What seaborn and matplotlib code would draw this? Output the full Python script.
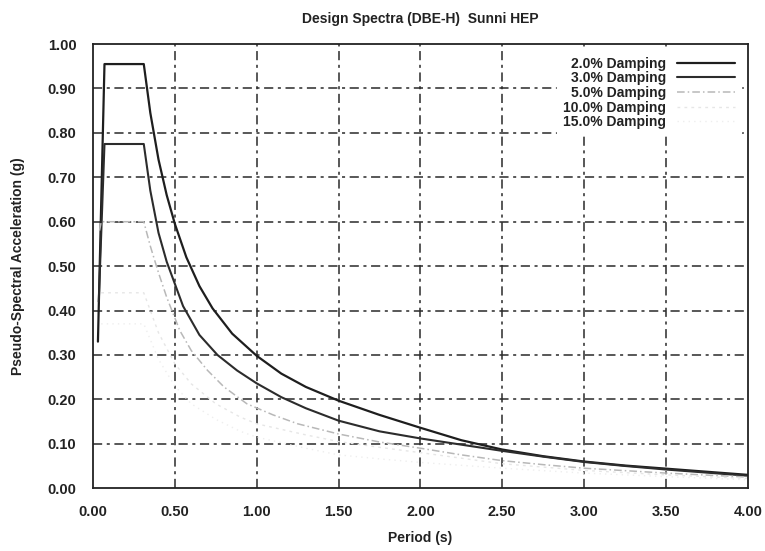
"""Design spectra (DBE-H), Sunni HEP - recreated with seaborn."""
import matplotlib
matplotlib.use("Agg")
import matplotlib.pyplot as plt
import seaborn as sns

# ---------------------------------------------------------------- data
period_2 = [0.03, 0.07, 0.31, 0.35, 0.40, 0.45, 0.50, 0.57, 0.65, 0.73, 0.85, 1.00, 1.15, 1.30,
            1.50, 1.75, 2.00, 2.25, 2.50, 2.75, 3.00, 3.25, 3.50, 3.75, 4.00]
sa_2 = [0.33, 0.955, 0.955, 0.845, 0.74, 0.66, 0.595, 0.52, 0.455, 0.405, 0.348, 0.298, 0.258, 0.228,
        0.197, 0.165, 0.136, 0.108, 0.087, 0.072, 0.060, 0.051, 0.044, 0.037, 0.030]

period_3 = [0.035, 0.07, 0.31, 0.35, 0.40, 0.45, 0.50, 0.55, 0.65, 0.76, 0.88, 1.00, 1.15, 1.30,
            1.50, 1.75, 2.00, 2.25, 2.50, 2.75, 3.00, 3.25, 3.50, 3.75, 4.00]
sa_3 = [0.42, 0.775, 0.775, 0.67, 0.575, 0.51, 0.46, 0.41, 0.345, 0.30, 0.265, 0.236, 0.205, 0.18,
        0.152, 0.128, 0.112, 0.098, 0.084, 0.071, 0.059, 0.050, 0.042, 0.035, 0.028]

period_5 = [0.04, 0.05, 0.31, 0.35, 0.40, 0.45, 0.53, 0.60, 0.70, 0.80, 0.94, 1.10, 1.25, 1.50,
            1.75, 2.00, 2.25, 2.50, 2.75, 3.00, 3.50, 4.00]
sa_5 = [0.58, 0.60, 0.60, 0.545, 0.485, 0.43, 0.355, 0.31, 0.265, 0.228, 0.19, 0.165, 0.145, 0.122,
        0.104, 0.090, 0.075, 0.062, 0.053, 0.045, 0.034, 0.025]

period_10 = [0.05, 0.31, 0.40, 0.50, 0.60, 0.75, 0.90, 1.00, 1.30, 1.50, 1.75, 2.00, 2.50, 3.00, 3.50, 4.00]
sa_10 = [0.44, 0.44, 0.35, 0.28, 0.235, 0.19, 0.16, 0.145, 0.12, 0.105, 0.092, 0.080, 0.055, 0.040, 0.030, 0.022]

period_15 = [0.05, 0.31, 0.40, 0.50, 0.60, 0.75, 0.90, 1.00, 1.30, 1.50, 1.75, 2.00, 2.50, 3.00, 3.50, 4.00]
sa_15 = [0.37, 0.37, 0.29, 0.23, 0.19, 0.155, 0.128, 0.115, 0.09, 0.075, 0.066, 0.058, 0.045, 0.034, 0.026, 0.019]

labels = ["2.0% Damping", "3.0% Damping", "5.0% Damping", "10.0% Damping", "15.0% Damping"]
x_ticks = [0.0, 0.5, 1.0, 1.5, 2.0, 2.5, 3.0, 3.5, 4.0]
y_ticks = [0.0, 0.1, 0.2, 0.3, 0.4, 0.5, 0.6, 0.7, 0.8, 0.9, 1.0]

# ---------------------------------------------------------------- style
sns.set_theme(style="white")
plt.rcParams["font.family"] = ["Liberation Sans Narrow", "Liberation Sans", "DejaVu Sans"]

fig = plt.figure(figsize=(7.65, 5.51), dpi=100)
ax = fig.add_axes([0.1216, 0.114, 0.856, 0.806])

series = [
    (period_2, sa_2, dict(color="#1e1e1e", lw=1.6, ls="-")),
    (period_3, sa_3, dict(color="#2c2c2c", lw=1.5, ls="-")),
    (period_5, sa_5, dict(color="#b8b8b8", lw=1.1, ls=(0, (5, 2, 1, 2)))),
    (period_10, sa_10, dict(color="#e6e6e6", lw=1.0, ls=(0, (2, 3)))),
    (period_15, sa_15, dict(color="#eeeeee", lw=1.0, ls=(0, (1, 3)))),
]
for (px, py, kw), lab in zip(series, labels):
    sns.lineplot(x=px, y=py, ax=ax, label=lab, sort=False, **kw)

# dash-dot grid like the original plot
grid_kw = dict(color="#2a2a2a", lw=1.1, ls=(0, (6, 3, 2, 3)), zorder=0.5)
for xv in x_ticks[1:-1]:
    ax.axvline(xv, **grid_kw)
for yv in y_ticks[1:-1]:
    ax.axhline(yv, **grid_kw)

ax.set_xlim(0, 4)
ax.set_ylim(0, 1)
ax.set_xticks(x_ticks)
ax.set_yticks(y_ticks)
ax.set_xticklabels([f"{v:.2f}" for v in x_ticks])
ax.set_yticklabels([f"{v:.2f}" for v in y_ticks])
ax.tick_params(axis="both", length=0, labelsize=10.5, colors="#222222")
ax.tick_params(axis="x", pad=12)
ax.tick_params(axis="y", pad=12)
for lab in ax.get_xticklabels() + ax.get_yticklabels():
    lab.set_fontweight("bold")

for sp in ax.spines.values():
    sp.set_color("#222222")
    sp.set_linewidth(1.3)

ax.set_title("Design Spectra (DBE-H)  Sunni HEP", fontsize=10, fontweight="bold",
             color="#222222", pad=15)
ax.set_xlabel("Period (s)", fontsize=10, fontweight="bold", color="#222222", labelpad=9)
ax.set_ylabel("Pseudo-Spectral Acceleration (g)", fontsize=10, fontweight="bold",
              color="#222222", labelpad=16)

leg = ax.legend(loc="upper right", frameon=True, markerfirst=False, fontsize=10,
                handlelength=4.2, labelspacing=0.05, borderaxespad=0.5,
                handletextpad=0.8, facecolor="white", edgecolor="white", framealpha=1)
for t in leg.get_texts():
    t.set_fontweight("bold")
    t.set_color("#222222")

fig.savefig("out.png", dpi=100, facecolor="white")
